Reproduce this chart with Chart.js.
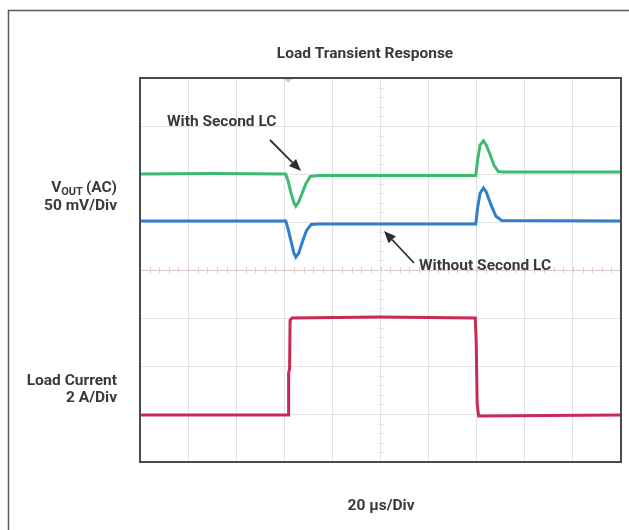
<!DOCTYPE html>
<html>
<head>
<meta charset="utf-8">
<title>Load Transient Response</title>
<script src="https://cdn.jsdelivr.net/npm/chart.js@4/dist/chart.umd.min.js"></script>
<style>
    html, body { margin: 0; padding: 0; background: #fff; }
    #wrap { width: 629px; height: 530px; position: relative; }
</style>
</head>
<body>
<div id="wrap"><canvas id="scope"></canvas></div>
<script>
// time axis in divisions (20 us/div), values in vertical divisions from the bottom
const greenT = [0, 1.5, 3.03, 3.08, 3.14, 3.2, 3.24, 3.3, 3.37, 3.45, 3.54, 3.7, 5.5, 6.98, 7.02, 7.07, 7.14, 7.2, 7.28, 7.36, 7.45, 7.55, 10];
const greenV = [6.0, 6.01, 6.0, 5.85, 5.6, 5.4, 5.33, 5.42, 5.6, 5.8, 5.95, 5.97, 5.97, 5.97, 6.3, 6.6, 6.69, 6.6, 6.4, 6.18, 6.05, 6.04, 6.04];

const blueT = [0, 1.5, 3.03, 3.08, 3.14, 3.2, 3.24, 3.3, 3.38, 3.46, 3.56, 3.7, 5.5, 6.98, 7.02, 7.07, 7.14, 7.2, 7.3, 7.4, 7.52, 10];
const blueV = [5.02, 5.02, 5.02, 4.85, 4.6, 4.35, 4.27, 4.35, 4.6, 4.82, 4.95, 4.96, 4.96, 4.96, 5.3, 5.6, 5.71, 5.62, 5.35, 5.12, 5.03, 5.02];

const redT = [0, 3.08, 3.09, 3.11, 3.12, 3.16, 5, 6.97, 6.99, 7.01, 7.04, 8.5, 10];
const redV = [0.98, 0.98, 1.85, 1.95, 2.95, 3.0, 3.02, 3.0, 2.5, 1.2, 0.96, 0.97, 0.98];

const xDivs = 10;
const yDivs = 8;

function toPoints(t, v) {
    return t.map((x, i) => ({ x: x, y: v[i] }));
}

const textColor = '#3a3a3a';
const textFont = 'bold 15.5px Roboto, "Liberation Sans", sans-serif';

// labels, arrows, frame and the minor ticks on the centre lines
const scopeDecor = {
    id: 'scopeDecor',
    beforeDatasetsDraw(chart) {
        const ctx = chart.ctx;
        const xs = chart.scales.x, ys = chart.scales.y;
        ctx.save();
        ctx.strokeStyle = '#dccdc7';
        ctx.lineWidth = 1;
        ctx.beginPath();
        for (let i = 0; i <= xDivs * 5; i++) {
            const px = Math.round(xs.getPixelForValue(i / 5)) + 0.5;
            const py = Math.round(ys.getPixelForValue(yDivs / 2));
            ctx.moveTo(px, py - 3);
            ctx.lineTo(px, py + 3);
        }
        ctx.stroke();
        ctx.strokeStyle = '#e2e2e2';
        ctx.beginPath();
        for (let i = 0; i <= yDivs * 5; i++) {
            const py = Math.round(ys.getPixelForValue(i / 5)) + 0.5;
            const px = Math.round(xs.getPixelForValue(xDivs / 2));
            ctx.moveTo(px - 3, py);
            ctx.lineTo(px + 3, py);
        }
        ctx.stroke();

        // trigger marker
        const tx = xs.getPixelForValue(3.08);
        const top = chart.chartArea.top;
        ctx.fillStyle = '#d2d2d2';
        ctx.beginPath();
        ctx.moveTo(tx - 4, top + 1);
        ctx.lineTo(tx + 4, top + 1);
        ctx.lineTo(tx, top + 5);
        ctx.closePath();
        ctx.fill();
        ctx.restore();
    },
    afterDraw(chart) {
        const ctx = chart.ctx;
        const a = chart.chartArea;
        ctx.save();

        // outer frame
        ctx.strokeStyle = '#5a5a5a';
        ctx.lineWidth = 1.5;
        ctx.strokeRect(8.5, 10.5, 700, 600);

        // plot border
        ctx.strokeStyle = '#4a4a4a';
        ctx.lineWidth = 2;
        ctx.strokeRect(a.left, a.top, a.right - a.left, a.bottom - a.top);

        ctx.fillStyle = textColor;
        ctx.font = textFont;
        ctx.textBaseline = 'middle';
        ctx.textAlign = 'center';
        ctx.fillText('Load Transient Response', 365, 54);
        ctx.fillText('20 \u00b5s/Div', 381, 506);

        // left side labels
        ctx.textAlign = 'right';
        ctx.fillText('50 mV/Div', 117, 206);
        ctx.fillText('Load Current', 117, 381);
        ctx.fillText('2 A/Div', 117, 398);

        const rest = '(AC)';
        const wRest = ctx.measureText(rest).width + 3;
        ctx.fillText(rest, 117, 188);
        ctx.font = 'bold 11px Roboto, "Liberation Sans", sans-serif';
        const wSub = ctx.measureText('OUT').width;
        ctx.fillText('OUT', 117 - wRest, 192);
        ctx.font = textFont;
        ctx.fillText('V', 117 - wRest - wSub, 188);

        // annotations
        ctx.textAlign = 'left';
        ctx.fillText('With Second LC', 167, 122);
        ctx.fillText('Without Second LC', 419, 266);

        drawArrow(ctx, 270, 140, 301, 171);
        drawArrow(ctx, 414, 263, 384, 231);
        ctx.restore();
    }
};

function drawArrow(ctx, x1, y1, x2, y2) {
    const ang = Math.atan2(y2 - y1, x2 - x1);
    const len = 12, half = 5;
    const bx = x2 - Math.cos(ang) * len, by = y2 - Math.sin(ang) * len;
    ctx.strokeStyle = '#2e2e2e';
    ctx.fillStyle = '#2e2e2e';
    ctx.lineWidth = 1.8;
    ctx.beginPath();
    ctx.moveTo(x1, y1);
    ctx.lineTo(bx, by);
    ctx.stroke();
    ctx.beginPath();
    ctx.moveTo(x2, y2);
    ctx.lineTo(bx + Math.sin(ang) * half, by - Math.cos(ang) * half);
    ctx.lineTo(bx - Math.sin(ang) * half, by + Math.cos(ang) * half);
    ctx.closePath();
    ctx.fill();
}

function gridColor(center) {
    return function(c) {
        return c.tick && c.tick.value === center ? '#dccbc4' : '#e2e2e2';
    };
}

new Chart(document.getElementById('scope'), {
    type: 'line',
    data: {
        datasets: [
            {
                label: 'With Second LC',
                data: toPoints(greenT, greenV),
                borderColor: '#3dba72',
                borderWidth: 3,
                pointRadius: 0,
                tension: 0
            },
            {
                label: 'Without Second LC',
                data: toPoints(blueT, blueV),
                borderColor: '#2f7ecd',
                borderWidth: 3,
                pointRadius: 0,
                tension: 0
            },
            {
                label: 'Load Current',
                data: toPoints(redT, redV),
                borderColor: '#c72a52',
                borderWidth: 3,
                pointRadius: 0,
                tension: 0
            }
        ]
    },
    options: {
        responsive: true,
        maintainAspectRatio: false,
        animation: false,
        layout: {
            padding: { left: 140, top: 78, right: 8, bottom: 68 }
        },
        scales: {
            x: {
                type: 'linear',
                min: 0,
                max: xDivs,
                ticks: { display: false, stepSize: 1 },
                grid: { color: gridColor(-1), drawTicks: false },
                border: { display: false }
            },
            y: {
                min: 0,
                max: yDivs,
                ticks: { display: false, stepSize: 1 },
                grid: { color: gridColor(yDivs / 2), drawTicks: false },
                border: { display: false }
            }
        },
        plugins: {
            legend: { display: false },
            tooltip: { enabled: false }
        }
    },
    plugins: [scopeDecor]
});
</script>
</body>
</html>
